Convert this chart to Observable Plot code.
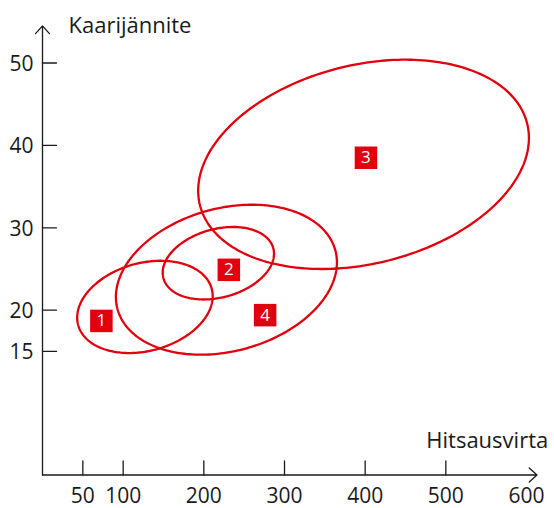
<!DOCTYPE html>
<html><head><meta charset="utf-8">
<script src="https://cdn.jsdelivr.net/npm/d3@7"></script>
<script src="https://cdn.jsdelivr.net/npm/@observablehq/plot@0.6"></script>
<style>body{margin:0;background:#fff;}</style>
</head><body><div id="chart"></div>
<script>
// Region ids and ellipse parameters (data units)
const regions = ["1", "2", "3", "4"];
const centerX = [127, 218, 398, 228];
const centerY = [20.4, 25.7, 37.7, 23.7];
const halfWidth = [84, 69, 205, 137];
const halfHeight = [5.6, 4.4, 12.7, 9.1];
const tiltAtRight = [1.3, 1.15, 3.2, 2.1]; // y offset of the rightmost point from centre
// Region number badges
const labelX = [73, 231, 401, 276];
const labelY = [18.7, 24.9, 38.5, 19.4];
// Axes
const xTicks = [50, 100, 200, 300, 400, 500];
const xTickLabels = [50, 100, 200, 300, 400, 500, 600];
const yTicks = [15, 20, 30, 40, 50];
const xTitle = "Hitsausvirta";
const yTitle = "Kaarijännite";
const xAxisEnd = 613;
const yAxisEnd = 54.5;

const RED = "#e2000f";
const INK = "#1a1a1a";

const ellipsePts = [];
regions.forEach((r, i) => {
  const m = Math.sqrt(halfHeight[i] ** 2 - tiltAtRight[i] ** 2);
  const n = 240;
  for (let s = 0; s <= n; s++) {
    const t = (s / n) * 2 * Math.PI;
    ellipsePts.push({
      region: r,
      x: centerX[i] + halfWidth[i] * Math.cos(t),
      y: centerY[i] + tiltAtRight[i] * Math.cos(t) + m * Math.sin(t)
    });
  }
});
const badges = regions.map((r, i) => ({region: r, x: labelX[i], y: labelY[i]}));
const tickShape = {draw(context, l) { context.moveTo(0, 0); context.lineTo(0, -l); }};

const chart = Plot.plot({
  width: 554, height: 508,
  marginLeft: 42, marginRight: 28, marginTop: 62.5, marginBottom: 33.5,
  x: {domain: [0, 600], axis: null},
  y: {domain: [0, 50], axis: null},
  style: {fontFamily: "'Open Sans', sans-serif", fontSize: "21px", color: INK, background: "white", overflow: "visible"},
  marks: [
    Plot.line(ellipsePts, {x: "x", y: "y", z: "region", stroke: RED, strokeWidth: 2.3}),
    Plot.arrow([{x1: 0, y1: 0, x2: xAxisEnd, y2: 0}], {x1: "x1", y1: "y1", x2: "x2", y2: "y2", stroke: INK, strokeWidth: 1.3, headLength: 12, headAngle: 84}),
    Plot.arrow([{x1: 0, y1: 0, x2: 0, y2: yAxisEnd}], {x1: "x1", y1: "y1", x2: "x2", y2: "y2", stroke: INK, strokeWidth: 1.3, headLength: 12, headAngle: 84}),
    Plot.vector(xTicks, {x: d => d, y: () => 0, length: 14, rotate: 0, anchor: "start", shape: tickShape, stroke: INK, strokeWidth: 1.3}),
    Plot.vector(yTicks, {x: () => 0, y: d => d, length: 14, rotate: 90, anchor: "start", shape: tickShape, stroke: INK, strokeWidth: 1.3}),
    Plot.text(xTickLabels, {x: d => d, y: () => 0, dy: 21.5, text: d => String(d), fill: INK, fontSize: 21}),
    Plot.text(yTicks, {x: () => 0, y: d => d, dx: -9, dy: 1, textAnchor: "end", text: d => String(d), fill: INK, fontSize: 21}),
    Plot.text([yTitle], {frameAnchor: "top-left", dx: 26, dy: -30.5, lineAnchor: "bottom", textAnchor: "start", text: d => d, fill: INK, fontSize: 22}),
    Plot.text([xTitle], {frameAnchor: "bottom-right", dx: 21.7, dy: -27.5, lineAnchor: "bottom", textAnchor: "end", text: d => d, fill: INK, fontSize: 22}),
    Plot.dot(badges, {x: "x", y: "y", symbol: "square", r: 12.7, fill: RED}),
    Plot.text(badges, {x: "x", y: "y", text: "region", fill: "white", fontSize: 17})
  ]
});
document.getElementById("chart").append(chart);
</script>
</body></html>
